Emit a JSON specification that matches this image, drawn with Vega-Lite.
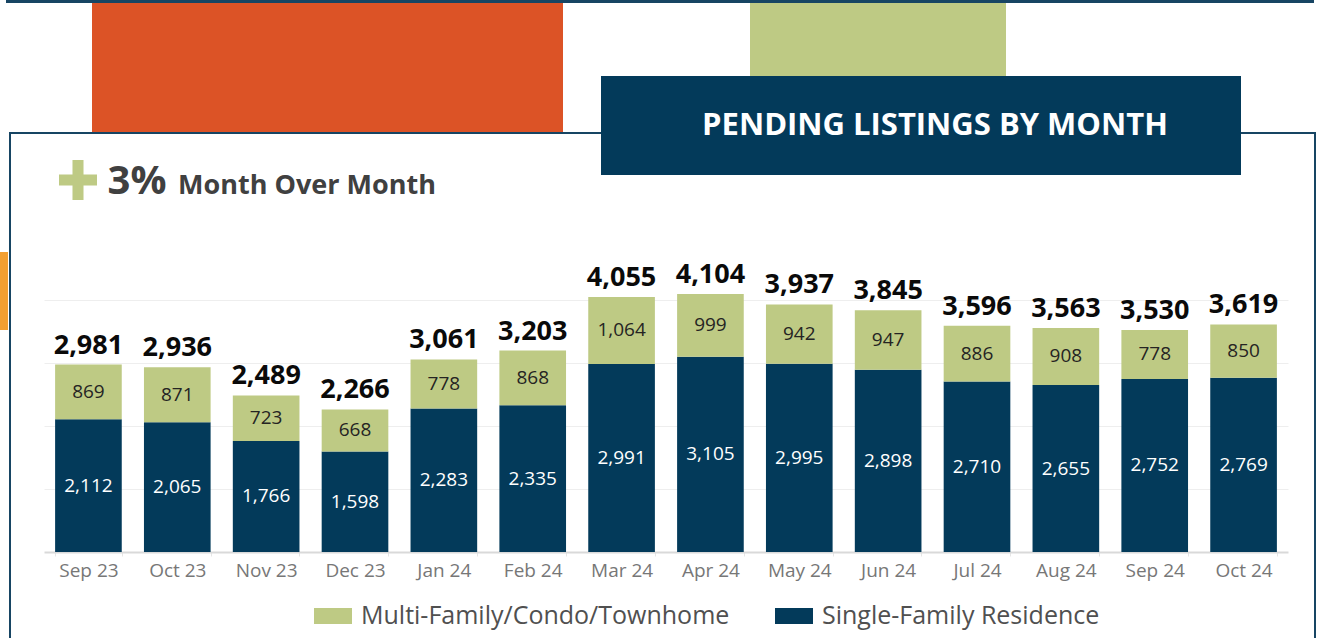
{
  "$schema": "https://vega.github.io/schema/vega-lite/v6.json",
  "padding": 0,
  "background": "white",
  "spacing": 0,
  "config": {"view": {"stroke": null}, "font": "Open Sans"},
  "datasets": {
    "pending": [
      {"month": "Sep 23", "type": "Single-Family Residence", "count": 2112},
      {"month": "Sep 23", "type": "Multi-Family/Condo/Townhome", "count": 869},
      {"month": "Oct 23", "type": "Single-Family Residence", "count": 2065},
      {"month": "Oct 23", "type": "Multi-Family/Condo/Townhome", "count": 871},
      {"month": "Nov 23", "type": "Single-Family Residence", "count": 1766},
      {"month": "Nov 23", "type": "Multi-Family/Condo/Townhome", "count": 723},
      {"month": "Dec 23", "type": "Single-Family Residence", "count": 1598},
      {"month": "Dec 23", "type": "Multi-Family/Condo/Townhome", "count": 668},
      {"month": "Jan 24", "type": "Single-Family Residence", "count": 2283},
      {"month": "Jan 24", "type": "Multi-Family/Condo/Townhome", "count": 778},
      {"month": "Feb 24", "type": "Single-Family Residence", "count": 2335},
      {"month": "Feb 24", "type": "Multi-Family/Condo/Townhome", "count": 868},
      {"month": "Mar 24", "type": "Single-Family Residence", "count": 2991},
      {"month": "Mar 24", "type": "Multi-Family/Condo/Townhome", "count": 1064},
      {"month": "Apr 24", "type": "Single-Family Residence", "count": 3105},
      {"month": "Apr 24", "type": "Multi-Family/Condo/Townhome", "count": 999},
      {"month": "May 24", "type": "Single-Family Residence", "count": 2995},
      {"month": "May 24", "type": "Multi-Family/Condo/Townhome", "count": 942},
      {"month": "Jun 24", "type": "Single-Family Residence", "count": 2898},
      {"month": "Jun 24", "type": "Multi-Family/Condo/Townhome", "count": 947},
      {"month": "Jul 24", "type": "Single-Family Residence", "count": 2710},
      {"month": "Jul 24", "type": "Multi-Family/Condo/Townhome", "count": 886},
      {"month": "Aug 24", "type": "Single-Family Residence", "count": 2655},
      {"month": "Aug 24", "type": "Multi-Family/Condo/Townhome", "count": 908},
      {"month": "Sep 24", "type": "Single-Family Residence", "count": 2752},
      {"month": "Sep 24", "type": "Multi-Family/Condo/Townhome", "count": 778},
      {"month": "Oct 24", "type": "Single-Family Residence", "count": 2769},
      {"month": "Oct 24", "type": "Multi-Family/Condo/Townhome", "count": 850}
    ]
  },
  "vconcat": [
    {
      "hconcat": [
        {"width": 6, "height": 3, "data": {"values": []}, "mark": "rect"},
        {"width": 1308, "height": 3, "data": {"values": []}, "mark": "rect", "view": {"fill": "#174563", "stroke": null}},
        {"width": 4, "height": 3, "data": {"values": []}, "mark": "rect"}
      ],
      "spacing": 0
    },
    {
      "hconcat": [
        {
          "vconcat": [
            {
              "hconcat": [
                {"width": 92, "height": 129, "data": {"values": []}, "mark": "rect"},
                {"width": 471, "height": 129, "data": {"values": []}, "mark": "rect", "view": {"fill": "#DC5326", "stroke": null}},
                {"width": 38, "height": 129, "data": {"values": []}, "mark": "rect"}
              ],
              "spacing": 0
            },
            {
              "hconcat": [
                {"width": 9, "height": 2, "data": {"values": []}, "mark": "rect"},
                {"width": 592, "height": 2, "data": {"values": []}, "mark": "rect", "view": {"fill": "#174563", "stroke": null}}
              ],
              "spacing": 0
            },
            {
              "hconcat": [
                {"width": 9, "height": 76, "data": {"values": []}, "mark": "rect"},
                {"width": 2, "height": 76, "data": {"values": []}, "mark": "rect", "view": {"fill": "#174563", "stroke": null}},
                {"width": 47, "height": 76, "data": {"values": []}, "mark": "rect"},
                {
                  "vconcat": [
                    {"width": 40, "height": 25, "data": {"values": []}, "mark": "rect"},
                    {
                      "width": 40, "height": 42,
                      "data": {"values": [{"sign": "plus"}]},
                      "mark": {"type": "point", "filled": true, "opacity": 1, "strokeWidth": 0, "color": "#BECA84", "size": 1444,
                        "shape": "M-0.29,-1.05H0.29V-0.29H1V0.29H0.29V1.05H-0.29V0.29H-1V-0.29H-0.29Z"}
                    }
                  ],
                  "spacing": 0
                },
                {"width": 7, "height": 76, "data": {"values": []}, "mark": "rect"},
                {
                  "vconcat": [
                    {"width": 64, "height": 26, "data": {"values": []}, "mark": "rect"},
                    {
                      "width": 64, "height": 44,
                      "data": {"values": [{"label": "3%"}]},
                      "mark": {"type": "text", "font": "Open Sans", "fontWeight": "bold", "fontSize": 40, "color": "#404040", "baseline": "middle", "align": "center"},
                      "encoding": {"text": {"field": "label"}}
                    }
                  ],
                  "spacing": 0
                },
                {
                  "vconcat": [
                    {"width": 276, "height": 36, "data": {"values": []}, "mark": "rect"},
                    {
                      "width": 276, "height": 32,
                      "data": {"values": [{"label": "Month Over Month"}]},
                      "mark": {"type": "text", "font": "Open Sans", "fontWeight": "bold", "fontSize": 27, "color": "#404040", "baseline": "middle", "align": "center"},
                      "encoding": {"text": {"field": "label"}}
                    }
                  ],
                  "spacing": 0
                },
                {"width": 156, "height": 76, "data": {"values": []}, "mark": "rect"}
              ],
              "spacing": 0
            }
          ],
          "spacing": 0
        },
        {
          "vconcat": [
            {
              "hconcat": [
                {"width": 149, "height": 73, "data": {"values": []}, "mark": "rect"},
                {"width": 256, "height": 73, "data": {"values": []}, "mark": "rect", "view": {"fill": "#BECA84", "stroke": null}},
                {"width": 235, "height": 73, "data": {"values": []}, "mark": "rect"}
              ],
              "spacing": 0
            },
            {
              "hconcat": [
                {"width": 28, "height": 99, "data": {"values": []}, "mark": "rect", "view": {"fill": "#033A5A", "stroke": null}},
                {
                  "width": 612, "height": 99,
                  "view": {"fill": "#033A5A", "stroke": null},
                  "data": {"values": [{"label": "PENDING LISTINGS BY MONTH"}]},
                  "mark": {"type": "text", "font": "Open Sans", "fontWeight": "bold", "fontSize": 31, "color": "#ffffff", "baseline": "middle", "align": "center"},
                  "encoding": {"text": {"field": "label"}}
                }
              ],
              "spacing": 0
            },
            {"width": 640, "height": 35, "data": {"values": []}, "mark": "rect"}
          ],
          "spacing": 0
        },
        {
          "vconcat": [
            {"width": 77, "height": 129, "data": {"values": []}, "mark": "rect"},
            {
              "hconcat": [
                {"width": 75, "height": 2, "data": {"values": []}, "mark": "rect", "view": {"fill": "#174563", "stroke": null}},
                {"width": 2, "height": 2, "data": {"values": []}, "mark": "rect"}
              ],
              "spacing": 0
            },
            {
              "hconcat": [
                {"width": 73, "height": 76, "data": {"values": []}, "mark": "rect"},
                {"width": 2, "height": 76, "data": {"values": []}, "mark": "rect", "view": {"fill": "#174563", "stroke": null}},
                {"width": 2, "height": 76, "data": {"values": []}, "mark": "rect"}
              ],
              "spacing": 0
            }
          ],
          "spacing": 0
        }
      ],
      "spacing": 0
    },
    {
      "hconcat": [
        {
          "vconcat": [
            {"width": 8, "height": 42, "data": {"values": []}, "mark": "rect"},
            {"width": 8, "height": 78, "data": {"values": []}, "mark": "rect", "view": {"fill": "#F29F31", "stroke": null}}
          ],
          "spacing": 0
        },
        {"width": 1, "height": 428, "data": {"values": []}, "mark": "rect"},
        {"width": 2, "height": 428, "data": {"values": []}, "mark": "rect", "view": {"fill": "#174563", "stroke": null}},
        {"width": 33, "height": 428, "data": {"values": []}, "mark": "rect"},
        {
          "vconcat": [
            {"width": 1244, "height": 59, "data": {"values": []}, "mark": "rect"},
            {
              "width": 1244,
              "height": 283,
              "data": {"name": "pending"},
              "encoding": {
                "x": {
                  "field": "month", "type": "ordinal",
                  "sort": ["Sep 23", "Oct 23", "Nov 23", "Dec 23", "Jan 24", "Feb 24", "Mar 24", "Apr 24", "May 24", "Jun 24", "Jul 24", "Aug 24", "Sep 24", "Oct 24"],
                  "scale": {"paddingInner": 0.25, "paddingOuter": 0.125},
                  "axis": {
                    "title": null, "labelAngle": 0, "labelFont": "Open Sans", "labelFontSize": 19, "labelColor": "#777777",
                    "labelPadding": 5, "ticks": true, "tickBand": "extent", "tickSize": 4, "tickColor": "#e6e6e6",
                    "domainColor": "#d9d9d9", "domainWidth": 2, "grid": false
                  }
                }
              },
              "layer": [
                {
                  "mark": {"type": "bar"},
                  "encoding": {
                    "y": {
                      "field": "count", "type": "quantitative", "stack": "zero",
                      "scale": {"domain": [0, 4500], "nice": false},
                      "axis": {"title": null, "labels": false, "ticks": false, "domain": false, "grid": true, "gridColor": "#eeeeee", "values": [1000, 2000, 3000, 4000]}
                    },
                    "color": {
                      "field": "type", "type": "nominal",
                      "scale": {"domain": ["Multi-Family/Condo/Townhome", "Single-Family Residence"], "range": ["#BECA84", "#033A5A"]},
                      "legend": {
                        "title": null, "orient": "none", "legendX": 314, "legendY": 597, "direction": "horizontal",
                        "symbolType": "M-1,-0.42H1V0.42H-1Z", "symbolSize": 1444, "symbolStrokeWidth": 0, "symbolOpacity": 1,
                        "labelFont": "Open Sans", "labelFontSize": 25, "labelColor": "#505050", "labelOffset": 9,
                        "columnPadding": 45, "padding": 0, "labelLimit": 0
                      }
                    },
                    "order": {"field": "type", "sort": "descending"}
                  }
                },
                {
                  "transform": [
                    {"stack": "count", "groupby": ["month"], "sort": [{"field": "type", "order": "descending"}], "as": ["c0", "c1"]},
                    {"calculate": "(datum.c0 + datum.c1) / 2", "as": "mid"}
                  ],
                  "mark": {"type": "text", "font": "Open Sans", "fontSize": 19, "baseline": "middle"},
                  "encoding": {
                    "y": {"field": "mid", "type": "quantitative"},
                    "text": {"field": "count", "type": "quantitative", "format": ",d"},
                    "color": {"condition": {"test": "datum.type === 'Single-Family Residence'", "value": "#ffffff"}, "value": "#252423"}
                  }
                },
                {
                  "transform": [
                    {"aggregate": [{"op": "sum", "field": "count", "as": "total"}], "groupby": ["month"]}
                  ],
                  "mark": {"type": "text", "font": "Open Sans", "fontWeight": "bold", "fontSize": 27, "baseline": "alphabetic", "dy": -11, "color": "#0a0a0a"},
                  "encoding": {
                    "y": {"field": "total", "type": "quantitative"},
                    "text": {"field": "total", "type": "quantitative", "format": ",d"}
                  }
                }
              ]
            }
          ],
          "spacing": 0,
          "bounds": "flush"
        },
        {"width": 26, "height": 428, "data": {"values": []}, "mark": "rect"},
        {"width": 2, "height": 428, "data": {"values": []}, "mark": "rect", "view": {"fill": "#174563", "stroke": null}},
        {"width": 2, "height": 428, "data": {"values": []}, "mark": "rect"}
      ],
      "spacing": 0
    }
  ]
}
